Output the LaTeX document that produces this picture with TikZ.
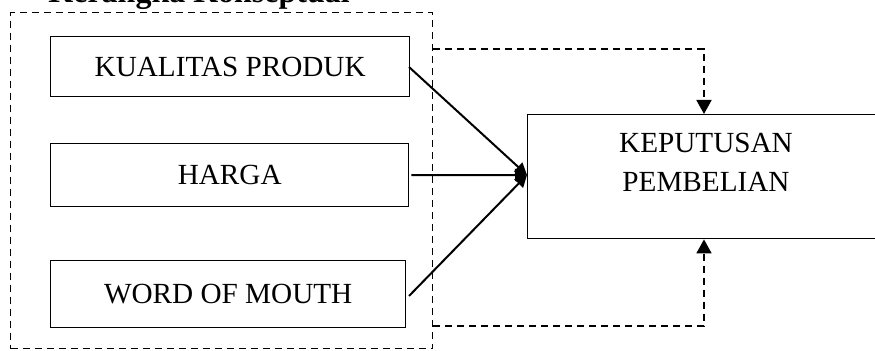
\documentclass[tikz,border=0pt]{standalone}
\usepackage{fontspec}
\setmainfont{Liberation Serif}
\usetikzlibrary{arrows.meta}
\begin{document}
\begin{tikzpicture}[x=0.5pt,y=-0.5pt,
  varbox/.style={draw,line width=0.7pt,minimum height=0pt,inner sep=0pt,
    font=\fontsize{14.6}{17.5}\selectfont},
  frame/.style={draw,dash pattern=on 3.5pt off 2.5pt,line width=0.7pt,inner sep=0pt},
  effect/.style={line width=1pt,-{Triangle[length=6pt,width=6pt]}},
  link/.style={line width=0.9pt,dash pattern=on 3.5pt off 2.5pt,
    -{Triangle[length=7pt,width=7.5pt]}}]
\useasboundingbox (0,0) rectangle (875,351);
% title, partly above the page edge
\node[anchor=base west,inner sep=0pt,font=\fontsize{16}{19}\selectfont\bfseries]
  (title) at (48,3) {Kerangka Konseptual};
% dashed frame around the independent variables
\node[frame,minimum width=211pt,minimum height=168pt,anchor=north west]
  (outer) at (10,12) {};
% independent variables
\node[varbox,minimum width=179.5pt,minimum height=30pt,anchor=north west]
  (kp) at (50,36) {KUALITAS PRODUK};
\node[varbox,minimum width=179pt,minimum height=31.5pt,anchor=north west]
  (hg) at (50,143) {HARGA};
\node[varbox,minimum width=177.5pt,minimum height=33.5pt,anchor=north west]
  (wom) at (50,260) {WORD OF MOUTH};
% dependent variable (runs past the right edge)
\node[draw,line width=0.7pt,minimum width=180pt,minimum height=62pt,
  anchor=north west,inner sep=0pt] (kep) at (527,114) {};
\node[align=center,inner sep=0pt,font=\fontsize{14.6}{19.5}\selectfont]
  (keptext) at (706,162) {KEPUTUSAN\\PEMBELIAN};
% meeting point on the left side of the dependent box
\coordinate (meet) at (527,175);
\coordinate (kpout) at (409,67);
\coordinate (womout) at (409,296);
\draw[effect] (kpout) -- (meet);
\draw[effect] (hg.east) ++(2,0) -- (meet);
\draw[effect] (womout) -- (meet);
% simultaneous effect from the whole frame
\coordinate (topbend) at (704,49);
\coordinate (botbend) at (704,326);
\draw[link] (outer.east |- topbend) -- (topbend) -- (kep.north -| topbend);
\draw[link] (outer.east |- botbend) -- (botbend) -- (kep.south -| botbend);
\end{tikzpicture}
\end{document}
